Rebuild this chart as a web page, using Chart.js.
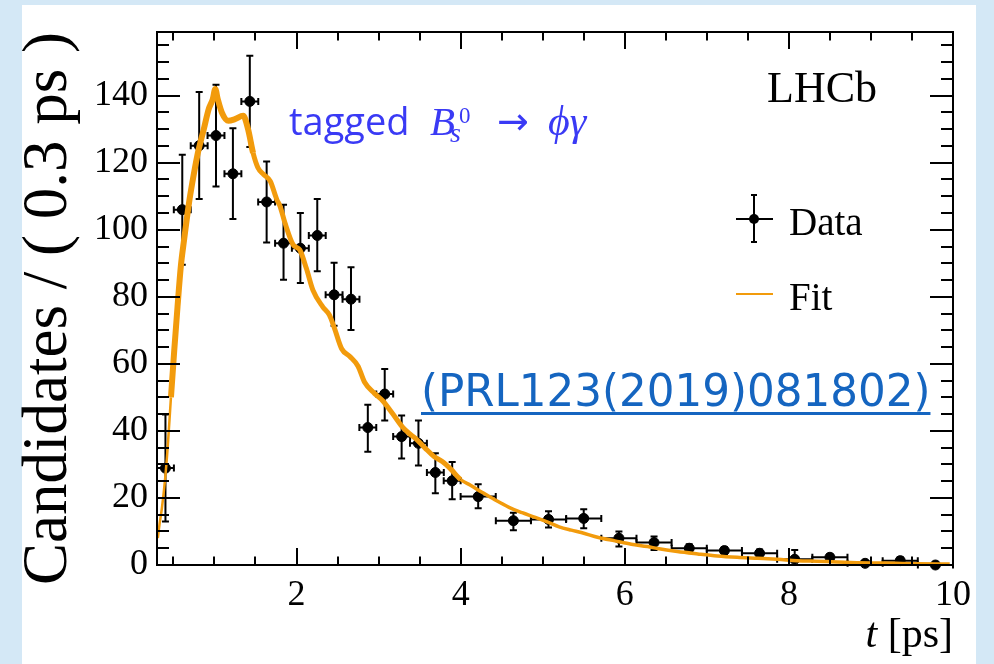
<!DOCTYPE html>
<html><head><meta charset="utf-8">
<script src="https://cdn.jsdelivr.net/npm/chart.js@4/dist/chart.umd.min.js"></script>
<style>html,body{margin:0;padding:0;background:rgb(212,232,246);}canvas{display:block}</style>
</head><body>
<canvas id="c" width="994" height="664"></canvas>
<script>
// ---- data ----
const binCenters = [0.403,0.608,0.814,1.019,1.225,1.431,1.636,1.842,2.047,2.253,2.458,2.664,2.869,3.075,3.281,3.486,3.692,3.897,4.214,4.643,5.071,5.500,5.929,6.357,6.786,7.214,7.643,8.071,8.500,8.929,9.357,9.786];
const binHalfWidths = [0.103,0.103,0.103,0.103,0.103,0.103,0.103,0.103,0.103,0.103,0.103,0.103,0.103,0.103,0.103,0.103,0.103,0.103,0.214,0.214,0.214,0.214,0.214,0.214,0.214,0.214,0.214,0.214,0.214,0.214,0.214,0.214];
const candidates = [28.9,106.0,125.1,128.1,116.7,138.3,108.3,96.0,94.5,98.3,80.6,79.3,41.0,51.0,38.3,36.3,27.6,25.1,20.4,13.2,13.6,13.9,8.0,6.7,5.0,4.3,3.5,1.7,2.3,0.5,1.3,0.0];
const errLow  = [13.0,89.6,109.2,112.9,103.2,124.7,96.2,85.1,84.1,87.6,71.4,70.1,33.8,43.1,31.8,29.7,21.4,19.6,16.9,10.4,11.2,11.0,5.5,4.5,3.8,3.2,2.5,0.0,1.3,0.0,0.3,0.0];
const errHigh = [44.9,122.4,141.1,143.3,130.3,151.9,120.4,107.5,105.0,109.2,90.2,88.8,47.8,58.5,44.6,43.1,33.3,30.7,24.1,15.6,16.0,16.6,10.0,8.5,6.2,5.4,4.6,4.5,3.3,1.2,2.3,0.5];
const fitT = [0.31,0.33,0.36,0.40,0.43,0.47,0.51,0.55,0.59,0.63,0.69,0.73,0.79,0.87,0.93,0.98,1.01,1.04,1.09,1.17,1.25,1.35,1.41,1.47,1.53,1.60,1.68,1.76,1.80,1.86,1.96,2.04,2.12,2.20,2.32,2.40,2.46,2.55,2.65,2.75,2.83,2.95,3.05,3.17,3.29,3.37,3.45,3.57,3.68,3.78,3.88,4.00,4.12,4.26,4.42,4.59,4.75,4.91,5.07,5.20,5.35,5.47,5.68,5.88,6.08,6.28,6.40,6.64,6.89,7.13,7.37,7.62,7.86,8.10,8.34,8.59,8.83,9.07,9.31,9.56,9.96];
const fitY = [8,12,17,26,35,50,64,77,89,97,108,114,122,130,136,139,142,139,135,132.5,133,134,130,123,118.5,116.5,114.5,109,107,102,95.5,94,88.5,82,77,74.6,70.8,64.5,62.2,59.3,54.5,51.2,49,45.2,41.2,39.3,37.8,34.8,32.3,30.8,28.6,25.5,23.8,21.7,19.4,17.2,15.6,14.2,12.7,11.4,10.4,9.7,8.2,7.2,6.2,5.5,4.9,4.0,3.3,2.7,2.3,2.0,1.7,1.3,1.1,0.9,0.7,0.6,0.5,0.4,0.3];
const xTickLabels = [2,4,6,8,10];
const yTickLabels = [0,20,40,60,80,100,120,140];
const xRange = [0.3, 10];
const yRange = [0, 159];
const xMinorStep = 0.5;
const yMinorStep = 5;

// ---- styling ----
const ORANGE = '#f29b0c';
const SERIF = '"Liberation Serif", "Times New Roman", serif';

const decorPlugin = {
  id: 'decor',
  beforeDraw(chart) {
    const ctx = chart.ctx;
    ctx.save();
    ctx.fillStyle = 'rgb(212,232,246)';
    ctx.fillRect(0, 0, chart.width, chart.height);
    ctx.fillStyle = '#ffffff';
    ctx.fillRect(22, 5, 954, 659);
    ctx.restore();
  },
  beforeDatasetsDraw(chart) {
    const {ctx, scales: {x, y}} = chart;
    ctx.save();
    ctx.strokeStyle = '#000';
    ctx.lineWidth = 2;
    const cap = 3.5;
    for (let i = 0; i < binCenters.length; i++) {
      const px = x.getPixelForValue(binCenters[i]);
      const py = y.getPixelForValue(candidates[i]);
      const xl = x.getPixelForValue(Math.max(binCenters[i] - binHalfWidths[i], x.min));
      const xr = x.getPixelForValue(binCenters[i] + binHalfWidths[i]);
      const yl = y.getPixelForValue(errLow[i]);
      const yh = y.getPixelForValue(errHigh[i]);
      ctx.beginPath();
      ctx.moveTo(xl, py); ctx.lineTo(xr, py);
      ctx.moveTo(xl, py - cap); ctx.lineTo(xl, py + cap);
      ctx.moveTo(xr, py - cap); ctx.lineTo(xr, py + cap);
      if (errHigh[i] - errLow[i] > 0.6) {
        ctx.moveTo(px, yl); ctx.lineTo(px, yh);
        ctx.moveTo(px - cap, yh); ctx.lineTo(px + cap, yh);
        if (errLow[i] > 0) { ctx.moveTo(px - cap, yl); ctx.lineTo(px + cap, yl); }
      }
      ctx.stroke();
    }
    ctx.restore();
  },
  afterDraw(chart) {
    const {ctx, chartArea: a, scales: {x, y}} = chart;
    ctx.save();
    ctx.strokeStyle = '#000';
    ctx.lineWidth = 2;
    ctx.beginPath();
    for (let k = Math.ceil(x.min / xMinorStep - 1e-9); k * xMinorStep <= x.max + 1e-9; k++) {
      const v = k * xMinorStep;
      const px = Math.round(x.getPixelForValue(v));
      const L = xTickLabels.includes(v) ? 17 : 8.5;
      ctx.moveTo(px, a.bottom); ctx.lineTo(px, a.bottom - L);
      ctx.moveTo(px, a.top); ctx.lineTo(px, a.top + L);
    }
    for (let k = Math.ceil(y.min / yMinorStep - 1e-9); k * yMinorStep <= y.max + 1e-9; k++) {
      const v = k * yMinorStep;
      const py = Math.round(y.getPixelForValue(v));
      const L = yTickLabels.includes(v) ? 23 : 12;
      ctx.moveTo(a.left, py); ctx.lineTo(a.left + L, py);
      ctx.moveTo(a.right, py); ctx.lineTo(a.right - L, py);
    }
    ctx.stroke();
    ctx.strokeRect(a.left, a.top, a.right - a.left, a.bottom - a.top);

    // LHCb label
    ctx.fillStyle = '#000';
    ctx.textBaseline = 'alphabetic';
    ctx.textAlign = 'left';
    ctx.font = '44px ' + SERIF;
    ctx.fillText('LHCb', 767, 102);

    // legend
    ctx.font = '39px ' + SERIF;
    ctx.fillText('Data', 789, 235);
    ctx.fillText('Fit', 789, 310);
    ctx.beginPath();
    ctx.moveTo(754, 195); ctx.lineTo(754, 242);
    ctx.moveTo(751, 195); ctx.lineTo(757, 195);
    ctx.moveTo(751, 242); ctx.lineTo(757, 242);
    ctx.moveTo(736, 219); ctx.lineTo(773, 219);
    ctx.stroke();
    ctx.beginPath(); ctx.arc(754, 219, 5, 0, Math.PI * 2); ctx.fill();
    ctx.strokeStyle = ORANGE; ctx.lineWidth = 2;
    ctx.beginPath(); ctx.moveTo(736, 294); ctx.lineTo(773, 294); ctx.stroke();

    // x axis title  t [ps]
    ctx.fillStyle = '#000';
    ctx.textAlign = 'right';
    ctx.font = '42px ' + SERIF;
    const rest = ' [ps]';
    ctx.fillText(rest, 953, 647);
    const wr = ctx.measureText(rest).width;
    ctx.font = 'italic 42px ' + SERIF;
    ctx.fillText('t', 953 - wr, 647);

    // tagged B_s^0 -> phi gamma
    const BLUE = 'rgb(58,58,245)';
    ctx.fillStyle = BLUE;
    ctx.textAlign = 'left';
    ctx.font = '38px "Open Sans", "Noto Sans", sans-serif';
    ctx.fillText('tagged', 289, 135);
    ctx.font = 'italic 41px ' + SERIF;
    ctx.fillText('B', 430, 135);
    ctx.font = 'italic 28px ' + SERIF;
    ctx.fillText('s', 450, 142);
    ctx.font = '23px ' + SERIF;
    ctx.fillText('0', 459, 123);
    ctx.font = '38px "DejaVu Sans", sans-serif';
    ctx.fillText('\u2192', 497, 134);
    ctx.font = 'italic 42px ' + SERIF;
    ctx.fillText('\u03d5\u03b3', 548, 135);

    // reference link
    const LINK = '#1565c0';
    ctx.fillStyle = LINK;
    ctx.font = '43.6px "DejaVu Sans", sans-serif';
    const ref = '(PRL123(2019)081802)';
    ctx.fillText(ref, 421, 406);
    const w = ctx.measureText(ref).width;
    ctx.fillRect(421, 412, w, 3);
    ctx.restore();
  }
};

new Chart(document.getElementById('c'), {
  data: {
    datasets: [
      {
        type: 'line',
        label: 'Fit',
        data: fitT.map((t, i) => ({x: t, y: fitY[i]})),
        borderColor: ORANGE,
        borderWidth: 5,
        pointRadius: 0,
        fill: false,
        cubicInterpolationMode: 'monotone',
        order: 1,
        segment: {
          borderWidth: c => {
            const t = c.p0.parsed.x;
            return t < 0.45 ? 2.5 : (t < 1.45 ? 6 : (t < 4 ? 5 : 3.5));
          }
        }
      },
      {
        type: 'scatter',
        label: 'Data',
        data: binCenters.map((t, i) => ({x: t, y: candidates[i]})),
        backgroundColor: '#000',
        borderColor: '#000',
        pointRadius: 5,
        pointHoverRadius: 5,
        clip: false,
        order: 2
      }
    ]
  },
  options: {
    responsive: false,
    animation: false,
    devicePixelRatio: 1,
    layout: {padding: {top: 32, right: 41, bottom: 0, left: 0}},
    plugins: {legend: {display: false}, tooltip: {enabled: false}},
    scales: {
      x: {
        type: 'linear',
        position: 'bottom',
        min: xRange[0], max: xRange[1],
        bounds: 'data',
        grid: {display: false, drawTicks: false},
        border: {display: false},
        afterBuildTicks: s => { s.ticks = xTickLabels.map(v => ({value: v})); },
        afterFit: s => { s.height = 99; },
        ticks: {color: '#000', font: {family: SERIF, size: 36}, padding: 9, maxRotation: 0, autoSkip: false}
      },
      y: {
        type: 'linear',
        position: 'left',
        min: yRange[0], max: yRange[1],
        bounds: 'data',
        grid: {display: false, drawTicks: false},
        border: {display: false},
        afterBuildTicks: s => { s.ticks = yTickLabels.map(v => ({value: v})); },
        afterFit: s => { s.width = 157; },
        ticks: {color: '#000', font: {family: SERIF, size: 36}, padding: 9, autoSkip: false},
        title: {display: true, text: 'Candidates / ( 0.3 ps )', color: '#000', align: 'end',
                font: {family: SERIF, size: 63}, padding: {top: 12, bottom: 0}}
      }
    }
  },
  plugins: [decorPlugin]
});
</script>
</body></html>
